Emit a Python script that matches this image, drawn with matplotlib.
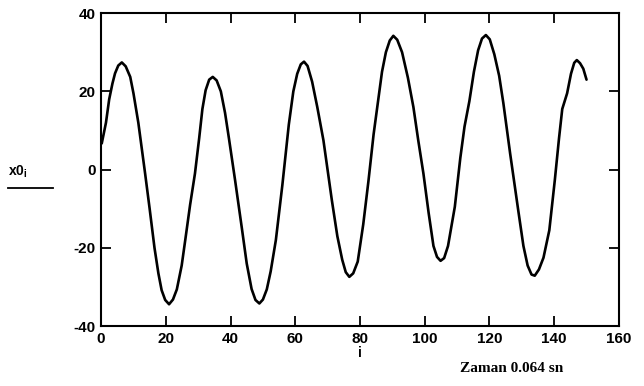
import matplotlib
matplotlib.use("Agg")
import matplotlib.pyplot as plt
from matplotlib.lines import Line2D

plt.rcParams["axes.unicode_minus"] = False

# sample index and value
i_vals = [0.2, 1.5, 2.5, 3.5, 4.3, 5.3, 6.4, 7.6, 9.0, 10.0, 11.5, 13.6, 15.0,
          16.5, 17.7, 18.7, 19.8, 21.0, 22.2, 23.4, 24.9, 26.0, 27.5, 29.0,
          30.3, 31.3, 32.3, 33.4, 34.5, 35.7, 37.0, 38.3, 39.5, 41.4, 43.5,
          45.0, 46.5, 47.7, 48.9, 50.0, 51.2, 52.4, 54.0, 56.0, 58.0, 59.4,
          60.6, 61.7, 62.7, 63.8, 65.2, 66.8, 68.7, 71.3, 73.0, 74.5, 75.6,
          76.7, 77.9, 79.3, 81.0, 82.6, 84.2, 85.5, 86.8, 88.0, 89.2, 90.3,
          91.5, 93.0, 94.8, 96.5, 98.0, 99.6, 101.2, 102.7, 103.8, 104.9,
          106.0, 107.2, 109.3, 111.0, 112.3, 113.8, 115.2, 116.5, 117.7,
          118.9, 120.1, 121.5, 123.0, 124.3, 126.4, 128.9, 130.5, 131.8,
          133.0, 134.0, 135.3, 136.7, 138.5, 140.2, 141.5, 142.5, 144.0,
          145.2, 146.2, 147.0, 148.0, 149.0, 150.0]
x0_vals = [6.7, 12.0, 18.0, 22.0, 24.6, 26.6, 27.4, 26.4, 23.7, 19.5, 12.0,
           -1.0, -10.0, -20.0, -26.5, -30.8, -33.3, -34.4, -33.2, -30.6,
           -24.5, -18.0, -9.0, -1.0, 8.0, 15.5, 20.3, 23.0, 23.7, 22.8, 20.0,
           14.5, 8.0, -2.7, -15.0, -24.0, -30.5, -33.3, -34.2, -33.2, -30.6,
           -26.0, -18.0, -4.0, 11.5, 20.0, 24.5, 26.9, 27.6, 26.5, 22.5, 16.0,
           7.5, -7.8, -17.0, -23.0, -26.2, -27.4, -26.5, -23.5, -14.0, -3.0,
           9.0, 17.0, 25.0, 30.0, 33.0, 34.2, 33.2, 30.0, 23.5, 16.0, 7.5,
           -1.0, -11.0, -19.5, -22.3, -23.3, -22.6, -19.5, -9.5, 3.0, 11.0,
           17.5, 25.0, 30.5, 33.5, 34.4, 33.3, 29.5, 24.0, 17.0, 4.1, -10.4,
           -19.5, -24.5, -26.8, -27.1, -25.5, -22.5, -15.5, -2.7, 8.0, 15.5,
           19.5, 24.5, 27.3, 28.0, 27.2, 25.8, 23.0]

x_ticks = [0, 20, 40, 60, 80, 100, 120, 140, 160]
y_ticks = [-40, -20, 0, 20, 40]

fig = plt.figure(figsize=(6.44, 3.86), dpi=100)
ax = fig.add_axes([0.157, 0.155, 0.804, 0.811])

ax.plot(i_vals, x0_vals, color="black", linewidth=1.9,
        solid_joinstyle="round", solid_capstyle="round")

ax.set_xlim(0, 160)
ax.set_ylim(-40, 40)
ax.set_xticks(x_ticks)
ax.set_yticks(y_ticks)
ax.tick_params(direction="in", top=True, right=True, length=7, width=1.3,
               labelsize=11, pad=4)
for lab in ax.get_xticklabels() + ax.get_yticklabels():
    lab.set_fontweight("bold")
    lab.set_family("Liberation Sans")
for s in ax.spines.values():
    s.set_linewidth(1.5)

ax.set_xlabel("i", fontsize=10, fontweight="bold", family="Liberation Sans", labelpad=0)

fig.text(0.012, 0.555, r"x0$_\mathregular{i}$", fontsize=10, fontweight="bold",
         family="Liberation Sans", ha="left", va="center")
fig.add_artist(Line2D([0.012, 0.083], [0.513, 0.513], color="black", linewidth=1.3))

fig.text(0.795, 0.045, "Zaman 0.064 sn", fontsize=11, fontweight="bold",
         family="Liberation Serif", ha="center", va="center")

fig.savefig("out.png", dpi=100)
